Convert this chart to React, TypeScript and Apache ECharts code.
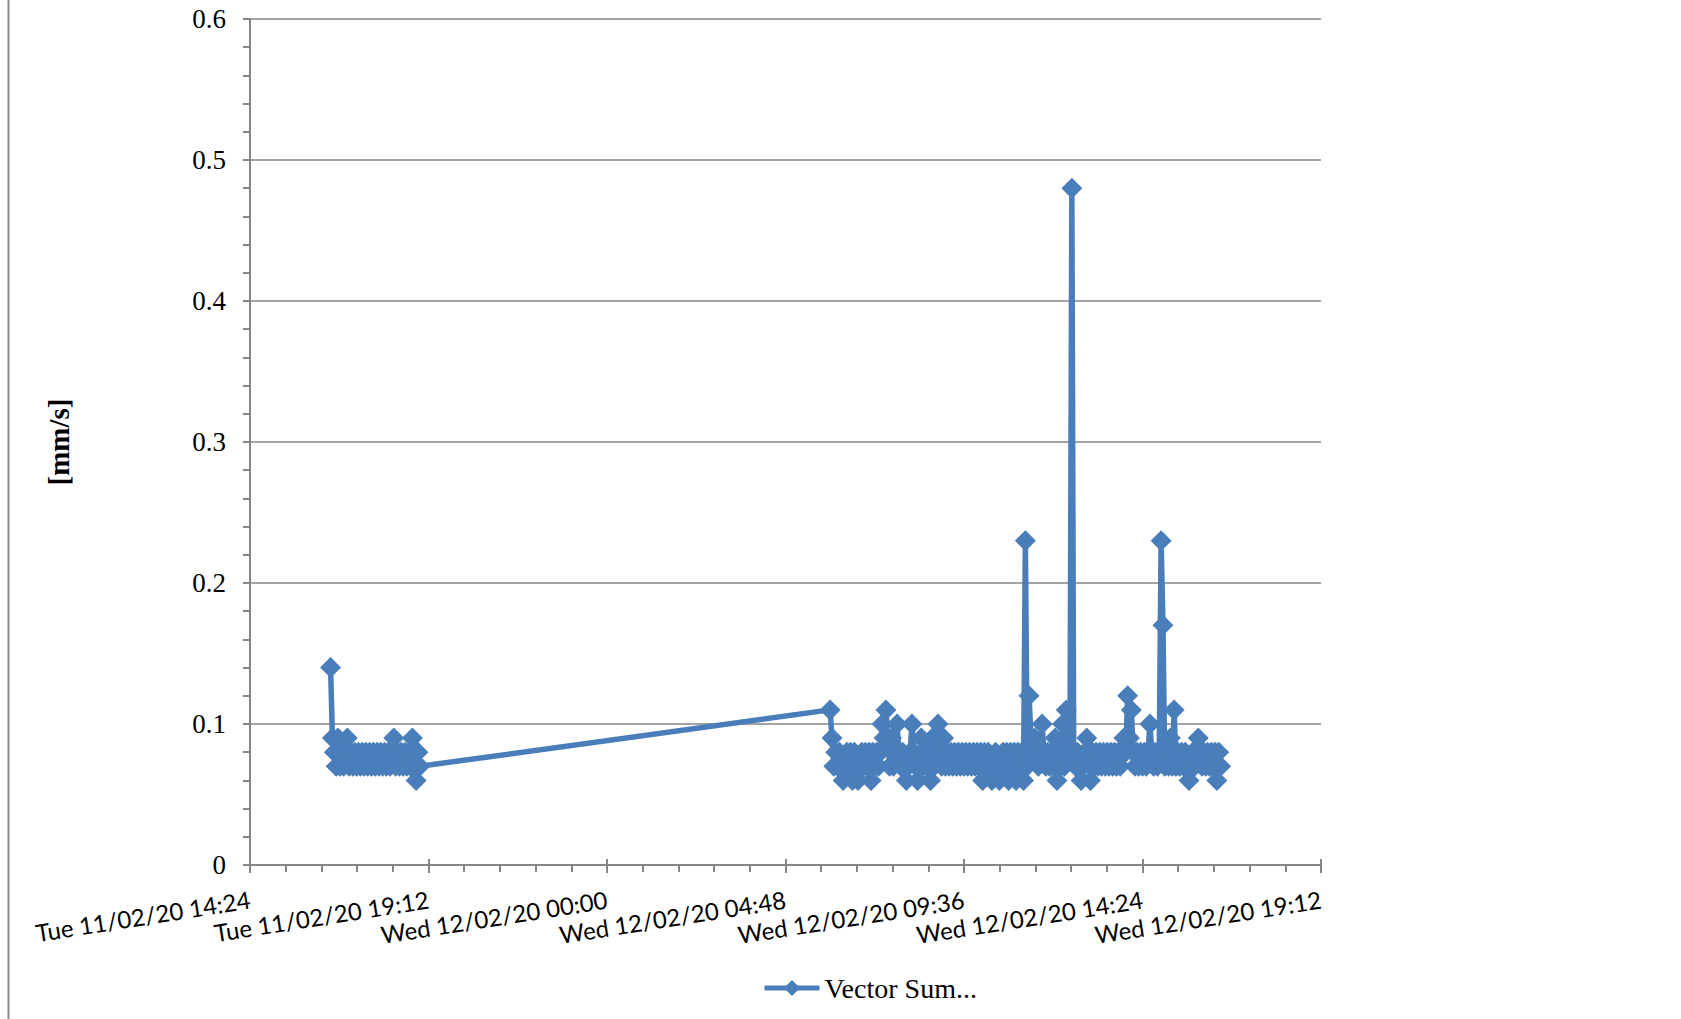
import React, { useEffect, useRef } from "react";
import * as echarts from "echarts";

// ---- data ----
const SERIES_NAME = "Vector Sum...";
const Y_AXIS_TITLE = "[mm/s]";

// x values are minutes counted from Tue 11/02/20 00:00
const X_MIN = 864; // Tue 11/02/20 14:24
const X_MAX = 2592; // Wed 12/02/20 19:12
const X_INTERVAL = 288; // 4h48
const X_TICK_LABELS = [
  "Tue 11/02/20 14:24",
  "Tue 11/02/20 19:12",
  "Wed 12/02/20 00:00",
  "Wed 12/02/20 04:48",
  "Wed 12/02/20 09:36",
  "Wed 12/02/20 14:24",
  "Wed 12/02/20 19:12",
];

const Y_MIN = 0;
const Y_MAX = 0.6;
const Y_INTERVAL = 0.1;

// logger interval (minutes)
const LOG_INTERVAL_MIN = 3;

// run 1: Tue 11/02/20 from 16:34
const RUN1_START = 994;
const RUN1_VALUES = [
  0.14, 0.09, 0.08, 0.07, 0.09, 0.07, 0.08, 0.07, 0.08, 0.09,
  0.07, 0.08, 0.07, 0.08, 0.07, 0.08, 0.07, 0.08, 0.07, 0.08,
  0.07, 0.08, 0.07, 0.08, 0.07, 0.08, 0.07, 0.08, 0.07, 0.08,
  0.07, 0.08, 0.07, 0.08, 0.09, 0.07, 0.08, 0.07, 0.08, 0.07,
  0.08, 0.07, 0.08, 0.07, 0.09, 0.07, 0.06, 0.08, 0.07,
];

// run 2: Wed 12/02/20 from 06:00
const RUN2_START = 1800;
const RUN2_VALUES = [
  0.11, 0.09, 0.07, 0.08, 0.07, 0.08, 0.07, 0.06, 0.07, 0.08,
  0.07, 0.08, 0.06, 0.08, 0.07, 0.06, 0.07, 0.08, 0.07, 0.08,
  0.07, 0.08, 0.06, 0.08, 0.07, 0.08, 0.07, 0.08, 0.1, 0.09,
  0.11, 0.09, 0.07, 0.09, 0.07, 0.08, 0.1, 0.08, 0.07, 0.08,
  0.07, 0.06, 0.07, 0.08, 0.1, 0.08, 0.07, 0.06, 0.07, 0.09,
  0.07, 0.08, 0.07, 0.08, 0.06, 0.09, 0.07, 0.08, 0.1, 0.08,
  0.07, 0.09, 0.07, 0.08, 0.07, 0.08, 0.07, 0.08, 0.07, 0.08,
  0.07, 0.08, 0.07, 0.08, 0.07, 0.08, 0.07, 0.08, 0.07, 0.08,
  0.07, 0.08, 0.06, 0.08, 0.07, 0.08, 0.07, 0.06, 0.07, 0.08,
  0.07, 0.06, 0.07, 0.08, 0.07, 0.08, 0.06, 0.08, 0.07, 0.08,
  0.06, 0.08, 0.07, 0.08, 0.06, 0.23, 0.07, 0.12, 0.09, 0.08,
  0.09, 0.08, 0.07, 0.08, 0.1, 0.08, 0.07, 0.08, 0.07, 0.08,
  0.07, 0.09, 0.06, 0.08, 0.07, 0.1, 0.07, 0.11, 0.08, 0.08,
  0.48, 0.08, 0.07, 0.08, 0.07, 0.06, 0.07, 0.08, 0.09, 0.08,
  0.06, 0.08, 0.07, 0.08, 0.07, 0.08, 0.07, 0.08, 0.07, 0.08,
  0.07, 0.08, 0.07, 0.08, 0.07, 0.08, 0.07, 0.08, 0.09, 0.08,
  0.12, 0.09, 0.11, 0.08, 0.07, 0.08, 0.07, 0.08, 0.07, 0.08,
  0.07, 0.08, 0.1, 0.08, 0.07, 0.08, 0.07, 0.08, 0.23, 0.17,
  0.07, 0.08, 0.07, 0.09, 0.07, 0.11, 0.07, 0.08, 0.07, 0.08,
  0.07, 0.08, 0.07, 0.06, 0.07, 0.08, 0.07, 0.08, 0.09, 0.08,
  0.07, 0.08, 0.07, 0.08, 0.07, 0.08, 0.07, 0.08, 0.06, 0.08,
  0.07,
];

const BLUE = "#4a7ebb";
const GRAY = "#868686";

export default function App() {
  const ref = useRef<HTMLDivElement>(null);

  useEffect(() => {
    document.body.style.margin = "0";
    if (!ref.current) return;
    const chart = echarts.init(ref.current, undefined, { renderer: "svg" });

    const data = [
      ...RUN1_VALUES.map((v, i) => [RUN1_START + i * LOG_INTERVAL_MIN, v]),
      ...RUN2_VALUES.map((v, i) => [RUN2_START + i * LOG_INTERVAL_MIN, v]),
    ];

    const xLabel = (val: number) => {
      const idx = Math.round((val - X_MIN) / X_INTERVAL);
      return X_TICK_LABELS[idx] ?? "";
    };

    chart.setOption({
      animation: false,
      backgroundColor: "#ffffff",
      grid: { left: 250, right: 360, top: 19, bottom: 154, containLabel: false },
      legend: {
        show: true,
        data: [SERIES_NAME],
        left: 757,
        top: 968,
        itemWidth: 55,
        itemHeight: 20,
        itemGap: 5,
        lineStyle: { width: 5 },
        textStyle: {
          fontFamily: "'Liberation Serif', serif",
          fontSize: 28,
          color: "#000",
          lineHeight: 30,
        },
      },
      xAxis: [
        {
          type: "value",
          min: X_MIN,
          max: X_MAX,
          interval: X_INTERVAL,
          axisLine: { show: true, onZero: false, lineStyle: { color: GRAY, width: 2 } },
          axisTick: { show: true, inside: false, length: 8, lineStyle: { color: GRAY, width: 2 } },
          minorTick: { show: true, splitNumber: 5, length: 7, lineStyle: { color: GRAY, width: 2 } },
          splitLine: { show: false },
          axisLabel: {
            show: true,
            rotate: 9,
            margin: 34,
            showMinLabel: true,
            showMaxLabel: true,
            hideOverlap: false,
            formatter: xLabel,
            fontFamily: "Lato, 'Open Sans', sans-serif",
            fontSize: 24,
            color: "#000",
          },
        },
        {
          type: "value",
          min: X_MIN,
          max: X_MAX,
          interval: X_INTERVAL,
          position: "bottom",
          axisLine: { show: false },
          axisTick: { show: true, inside: true, length: 6, lineStyle: { color: GRAY, width: 2 } },
          minorTick: { show: false },
          splitLine: { show: false },
          axisLabel: { show: false },
        },
      ],
      yAxis: {
        type: "value",
        min: Y_MIN,
        max: Y_MAX,
        interval: Y_INTERVAL,
        axisLine: { show: true, lineStyle: { color: GRAY, width: 2 } },
        axisTick: { show: true, inside: false, length: 7, lineStyle: { color: GRAY, width: 2 } },
        minorTick: { show: true, splitNumber: 5, length: 7, lineStyle: { color: GRAY, width: 2 } },
        splitLine: { show: true, lineStyle: { color: GRAY, width: 1.5 } },
        axisLabel: {
          margin: 24,
          fontFamily: "'Liberation Serif', serif",
          fontSize: 27,
          color: "#000",
        },
      },
      graphic: [
        {
          type: "line",
          shape: { x1: 8.5, y1: 0, x2: 8.5, y2: 1019 },
          style: { stroke: "#8a8a8a", lineWidth: 2 },
          silent: true,
        },
        {
          type: "text",
          x: 59,
          y: 442,
          rotation: Math.PI / 2,
          style: {
            text: Y_AXIS_TITLE,
            fontFamily: "'Liberation Serif', serif",
            fontWeight: "bold",
            fontSize: 29,
            fill: "#000",
            textAlign: "center",
            textVerticalAlign: "middle",
          },
          silent: true,
        },
      ],
      series: [
        {
          name: SERIES_NAME,
          type: "line",
          xAxisIndex: 0,
          data,
          symbol: "diamond",
          symbolSize: 21,
          showSymbol: true,
          showAllSymbol: true,
          lineStyle: { color: BLUE, width: 5.5 },
          itemStyle: { color: BLUE, borderWidth: 0 },
          emphasis: { disabled: true },
        },
      ],
    });

    return () => chart.dispose();
  }, []);

  return <div ref={ref} style={{ width: 1681, height: 1019 }} />;
}
